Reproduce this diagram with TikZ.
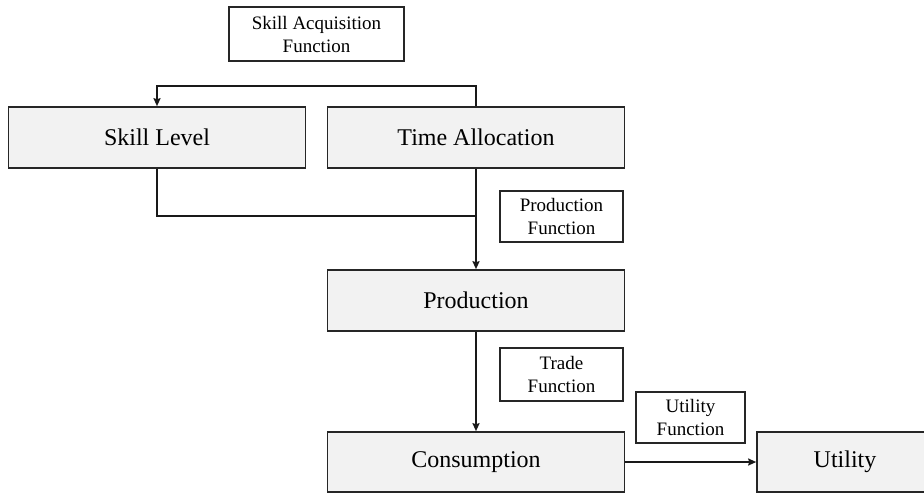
\documentclass[tikz,border=0pt]{standalone}
\usepackage{fontspec}
\setmainfont{Liberation Serif}
\usetikzlibrary{arrows.meta}
\definecolor{boxfill}{HTML}{F2F2F2}
\definecolor{boxline}{HTML}{262626}
\begin{document}
\begin{tikzpicture}[x=1pt,y=-1pt,
  mainbox/.style={draw=boxline,line width=1.6pt,fill=boxfill,inner sep=0pt,
    minimum width=297pt,minimum height=61pt,font=\fontsize{24}{28}\selectfont},
  funcbox/.style={draw=boxline,line width=1.3pt,fill=white,inner sep=0pt,align=center,
    font=\fontsize{19}{23}\selectfont},
  conn/.style={line width=2pt,draw=black!90},
  arr/.style={conn,-{Stealth[length=8pt,width=7pt,inset=1pt]}}]
\useasboundingbox (0,0) rectangle (924,493);
\node[funcbox,minimum width=175pt,minimum height=54pt] (saf) at (316.5,34) {Skill Acquisition\\Function};
\node[mainbox] (sl) at (157,137.5) {Skill Level};
\node[mainbox] (ta) at (476,137.5) {Time Allocation};
\node[funcbox,minimum width=123pt,minimum height=51pt] (pf) at (561.5,216.5) {Production\\Function};
\node[mainbox] (prod) at (476,300.5) {Production};
\node[funcbox,minimum width=123pt,minimum height=53pt] (tf) at (561.5,374.5) {Trade\\Function};
\node[mainbox,minimum height=60pt] (cons) at (476,462) {Consumption};
\node[funcbox,minimum width=109pt,minimum height=51pt] (uf) at (690.5,417.5) {Utility\\Function};
\node[mainbox,minimum width=176pt,minimum height=60pt] (util) at (845,462) {Utility};
\coordinate (topline) at (0,86);
\coordinate (joinline) at (0,216);
\draw[arr] (ta.north) -- (ta.north |- topline) -| (sl.north);
\draw[conn] (sl.south) |- (ta.south |- joinline);
\draw[arr] (ta.south) -- (prod.north);
\draw[arr] (prod.south) -- (cons.north);
\draw[arr] (cons.east) -- (util.west);
\end{tikzpicture}
\end{document}
